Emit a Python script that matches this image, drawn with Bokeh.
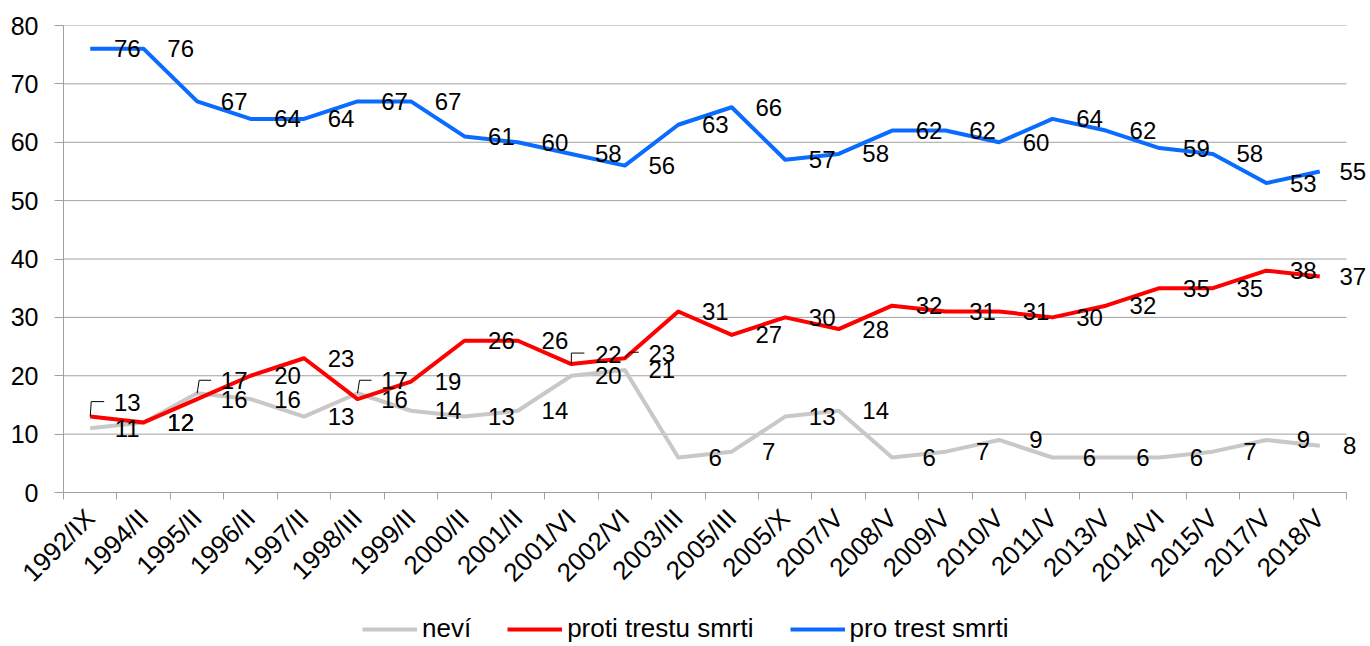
import math
from bokeh.plotting import figure
from bokeh.layouts import column
from bokeh.models import (ColumnDataSource, LabelSet, Legend, LegendItem,
                          FixedTicker, Range1d)
from bokeh.core.properties import value
from bokeh.embed import file_html
from bokeh.resources import INLINE

# ---------------- data ----------------
categories = ["1992/IX", "1994/II", "1995/II", "1996/II", "1997/II", "1998/III",
              "1999/II", "2000/II", "2001/II", "2001/VI", "2002/VI", "2003/III",
              "2005/III", "2005/X", "2007/V", "2008/V", "2009/V", "2010/V",
              "2011/V", "2013/V", "2014/VI", "2015/V", "2017/V", "2018/V"]
nevi = [11, 12, 17, 16, 13, 17, 14, 13, 14, 20, 21, 6, 7, 13, 14, 6, 7, 9, 6, 6, 6, 7, 9, 8]
proti = [13, 12, 16, 20, 23, 16, 19, 26, 26, 22, 23, 31, 27, 30, 28, 32, 31, 31, 30, 32, 35, 35, 38, 37]
pro = [76, 76, 67, 64, 64, 67, 67, 61, 60, 58, 56, 63, 66, 57, 58, 62, 62, 60, 64, 62, 59, 58, 53, 55]
series_names = ["neví", "proti trestu smrti", "pro trest smrti"]
y_ticks = [0, 10, 20, 30, 40, 50, 60, 70, 80]

# ---------------- styling ----------------
colors = ["#C8C8C8", "#FF0000", "#0A6CFF"]
FONT = "Liberation Sans"
GRID = "#A0A0A0"

LABEL_DX = 37
# label nudges (screen px) for labels moved manually
nudges_y = {(1, 0): 14, (0, 2): 13, (0, 5): 13, (1, 9): 10, (1, 10): 5}
nudges_x = {(0, 23): 30, (1, 23): 33, (2, 23): 33}
leader_shapes = {(1, 0): [(0, 0), (1, 15), (14, 15)],
                 (0, 2): [(0, 0), (2, 13), (14, 13)],
                 (0, 5): [(0, 0), (2, 13), (14, 13)],
                 (1, 9): [(0, 0), (0, 11), (13, 11)],
                 (1, 10): [(0, 0), (5, 6), (14, 6)]}

W = 1366
H1, H2 = 614, 30
LEFT, TOP = 63, 25
FRAME_BOTTOM = 492
BOTTOM = H1 - FRAME_BOTTOM
PLOT_W = 1283          # width of the category area in px
n = len(categories)
px_x = PLOT_W / n
extra = (W - LEFT - PLOT_W) / px_x     # room on the right for the last labels

p = figure(width=W, height=H1, output_backend="svg", toolbar_location=None,
           x_range=Range1d(0, n + extra), y_range=Range1d(0, 80),
           min_border_left=LEFT, min_border_right=0, min_border_top=TOP,
           min_border_bottom=BOTTOM)
p.outline_line_color = None
p.background_fill_color = "white"
p.border_fill_color = "white"

xs = [i + 0.5 for i in range(n)]

# y axis
p.yaxis.ticker = FixedTicker(ticks=y_ticks)
p.yaxis.axis_line_color = GRID
p.yaxis.major_tick_line_color = GRID
p.yaxis.major_tick_out = 9
p.yaxis.major_tick_in = 0
p.yaxis.minor_tick_line_color = None
p.yaxis.major_label_text_font = FONT
p.yaxis.major_label_text_font_size = "25px"
p.yaxis.major_label_text_color = "black"
p.yaxis.major_label_standoff = 16
p.ygrid.grid_line_color = None
p.xgrid.grid_line_color = None

# horizontal gridlines limited to the category area
p.segment(x0=[0] * len(y_ticks), x1=[n] * len(y_ticks), y0=y_ticks, y1=y_ticks,
          line_color=GRID, line_width=1)

# x axis: labels at category centres, ticks at boundaries
p.xaxis.ticker = FixedTicker(ticks=xs, minor_ticks=list(range(n + 1)))
p.xaxis.bounds = (0, n)
p.xaxis.major_label_overrides = {x: c for x, c in zip(xs, categories)}
p.xaxis.major_tick_out = 0
p.xaxis.major_tick_in = 0
p.xaxis.minor_tick_out = 7
p.xaxis.minor_tick_in = 0
p.xaxis.minor_tick_line_color = GRID
p.xaxis.axis_line_color = GRID
p.xaxis.major_label_orientation = math.pi / 4
p.xaxis.major_label_text_font = FONT
p.xaxis.major_label_text_font_size = "26px"
p.xaxis.major_label_text_color = "black"
p.xaxis.major_label_standoff = 14

# lines
all_series = [nevi, proti, pro]
for k, vals in enumerate(all_series):
    p.line(xs, vals, line_color=colors[k], line_width=4, line_join="round")

# leader lines (px offsets converted to data units)
px_y = (FRAME_BOTTOM - TOP) / 80.0
lx, ly = [], []
for (k, i), shape in leader_shapes.items():
    v = all_series[k][i]
    lx.append([xs[i] + dx / px_x for dx, dy in shape])
    ly.append([v + dy / px_y for dx, dy in shape])
p.multi_line(lx, ly, line_color="black", line_width=1)

# data labels
for k, vals in enumerate(all_series):
    yoff = [nudges_y.get((k, i), 0) for i in range(n)]
    xoff = [nudges_x.get((k, i), LABEL_DX) for i in range(n)]
    src = ColumnDataSource(dict(x=xs, y=vals, t=[str(v) for v in vals],
                                yo=yoff, xo=xoff))
    p.add_layout(LabelSet(x="x", y="y", text="t", source=src, x_offset="xo",
                          y_offset="yo", text_align="center", text_baseline="middle",
                          text_font=value(FONT), text_font_size="24px",
                          text_color="black"))

# legend strip below the chart (its frame is aligned with the chart frame)
lg = figure(width=W, height=H2, output_backend="svg", toolbar_location=None,
            x_axis_type=None, y_axis_type=None, x_range=Range1d(0, 1),
            y_range=Range1d(0, 1), min_border=0, min_border_left=0,
            min_border_right=0, min_border_top=0, min_border_bottom=0)
lg.outline_line_color = None
lg.grid.grid_line_color = None
lg_renderers = [lg.line([-5, -4], [-5, -4], line_color=colors[k], line_width=4)
                for k in range(3)]
legend = Legend(items=[LegendItem(label=series_names[k], renderers=[lg_renderers[k]])
                       for k in range(3)],
                orientation="horizontal", location=(299, 0),
                glyph_width=55, glyph_height=26, label_height=26,
                label_standoff=5, spacing=36, padding=0, margin=0,
                border_line_alpha=0, background_fill_alpha=0,
                label_text_font=FONT, label_text_font_size="26px",
                label_text_color="black")
lg.add_layout(legend)

open("out.html", "w").write(file_html(column(p, lg, spacing=0), INLINE))
